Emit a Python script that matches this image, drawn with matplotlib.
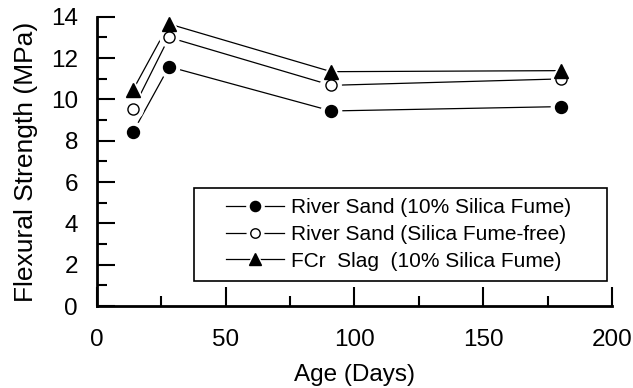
import matplotlib
matplotlib.use("Agg")
from matplotlib import pyplot as plt
from matplotlib.legend_handler import HandlerTuple
from matplotlib.patches import Rectangle
from matplotlib.ticker import MultipleLocator

age_days = [14, 28, 91, 180]
river_sand_sf = [8.41, 11.58, 9.44, 9.65]
river_sand_free = [9.52, 13.0, 10.68, 10.99]
fcr_slag_sf = [10.45, 13.65, 11.34, 11.39]

labels = ['River Sand (10% Silica Fume)',
          'River Sand (Silica Fume-free)',
          'FCr  Slag  (10% Silica Fume)']

plt.rcParams['font.family'] = ['Liberation Sans', 'DejaVu Sans']

fig = plt.figure(figsize=(6.33, 3.88), dpi=100)
ax = fig.add_axes([0.153, 0.211, 0.814, 0.746])

series = [
    (river_sand_sf, dict(marker='o', markersize=8.6, mfc='black', mec='black')),
    (river_sand_free, dict(marker='o', markersize=8.0, mfc='white', mec='black', mew=1.0)),
    (fcr_slag_sf, dict(marker='^', markersize=10, mfc='black', mec='black')),
]

handles = []
for values, style in series:
    line, = ax.plot(age_days, values, color='black', lw=0.9, zorder=2, clip_on=False)
    # white halo so the line stops short of each marker
    halo, = ax.plot(age_days, values, ls='none', marker=style['marker'],
                    markersize=style['markersize'] + 6, mfc='white', mec='white',
                    zorder=3, clip_on=False)
    mark, = ax.plot(age_days, values, ls='none', zorder=4, clip_on=False, **style)
    handles.append((line, halo, mark))

ax.set_xlim(0, 200)
ax.set_ylim(0, 14)
ax.xaxis.set_major_locator(MultipleLocator(50))
ax.xaxis.set_minor_locator(MultipleLocator(25))
ax.yaxis.set_major_locator(MultipleLocator(2))
ax.yaxis.set_minor_locator(MultipleLocator(1))

for side in ['top', 'right']:
    ax.spines[side].set_visible(False)
for side in ['left', 'bottom']:
    ax.spines[side].set_linewidth(2.0)

ax.tick_params(axis='x', which='major', direction='in', length=14, width=1.5, pad=16.5, labelsize=17.5)
ax.tick_params(axis='x', which='minor', direction='in', length=7, width=1.5)
ax.tick_params(axis='y', which='major', direction='in', length=13, width=1.5, pad=13.5, labelsize=17.5)
ax.tick_params(axis='y', which='minor', direction='in', length=7, width=1.5)

ax.set_xlabel('Age (Days)', fontsize=17.5, labelpad=9)
ax.set_ylabel('Flexural Strength (MPa)', fontsize=19, labelpad=9)

# legend frame drawn separately so the padding can differ from the legend's own
box = Rectangle((0.189, 0.0875), 0.801, 0.3205, transform=ax.transAxes,
                facecolor='white', edgecolor='black', lw=1.2, zorder=5)
ax.add_patch(box)

leg = ax.legend(handles, labels, handler_map={tuple: HandlerTuple(ndivide=1)},
                loc='center', bbox_to_anchor=(0.585, 0.248), fontsize=15,
                frameon=False, handlelength=2.8, markerscale=0.85,
                handletextpad=0.3, labelspacing=0.38, borderpad=0, borderaxespad=0)
leg.set_zorder(6)

fig.savefig('out.png', dpi=100)
